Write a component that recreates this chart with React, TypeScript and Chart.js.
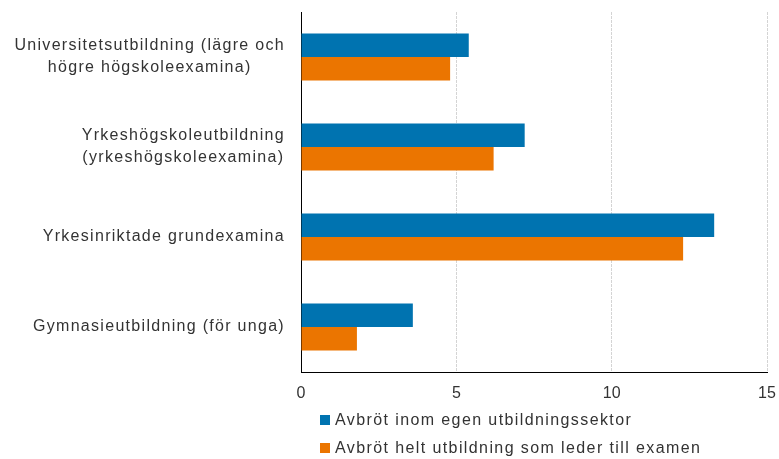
import React, { useEffect, useRef } from 'react';
import { Chart, registerables } from 'chart.js';

Chart.register(...registerables);

// ---- Data ----
const categories: string[][] = [
  ['Universitetsutbildning (lägre och', 'högre högskoleexamina)'],
  ['Yrkeshögskoleutbildning', '(yrkeshögskoleexamina)'],
  ['Yrkesinriktade grundexamina'],
  ['Gymnasieutbildning (för unga)'],
];
const seriesNames = [
  'Avbröt inom egen utbildningssektor',
  'Avbröt helt utbildning som leder till examen',
];
const withinSector = [5.4, 7.2, 13.3, 3.6];
const leftCompletely = [4.8, 6.2, 12.3, 1.8];
const xMin = 0;
const xMax = 15;
const xStep = 5;

// ---- Styles ----
const FONT = "'Liberation Sans', Arial, sans-serif";
const TEXT = '#333333';
const COLORS = ['#0073b0', '#eb7500'];

const yLabelPlugin = {
  id: 'yLabels',
  afterDraw(chart: any) {
    const { ctx, chartArea } = chart;
    const y = chart.scales.y;
    ctx.save();
    ctx.font = `16px ${FONT}`;
    (ctx as any).letterSpacing = '1.3px';
    ctx.fillStyle = TEXT;
    ctx.textAlign = 'center';
    ctx.textBaseline = 'middle';
    const right = chartArea.left - 16;
    const lh = 22;
    categories.forEach((lines, i) => {
      const cy = y.getPixelForValue(i);
      const w = Math.max(...lines.map((l) => ctx.measureText(l).width));
      const cx = right - w / 2;
      lines.forEach((line, j) => {
        ctx.fillText(line, cx, cy + (j - (lines.length - 1) / 2) * lh);
      });
    });
    ctx.restore();
  },
};

export default function App() {
  const ref = useRef<HTMLCanvasElement | null>(null);

  useEffect(() => {
    if (!ref.current) return;
    const chart = new Chart(ref.current, {
      type: 'bar',
      data: {
        labels: categories.map((c) => c.join(' ')),
        datasets: [
          {
            label: seriesNames[0],
            data: withinSector,
            backgroundColor: COLORS[0],
            categoryPercentage: 0.52,
            barPercentage: 1,
          },
          {
            label: seriesNames[1],
            data: leftCompletely,
            backgroundColor: COLORS[1],
            categoryPercentage: 0.52,
            barPercentage: 1,
          },
        ],
      },
      options: {
        indexAxis: 'y',
        animation: false,
        responsive: false,
        maintainAspectRatio: false,
        events: [],
        layout: { padding: { top: 12, right: 12, bottom: 57, left: 0 } },
        plugins: {
          legend: { display: false },
          tooltip: { enabled: false },
        },
        scales: {
          x: {
            min: xMin,
            max: xMax,
            ticks: {
              stepSize: xStep,
              color: TEXT,
              font: { family: FONT, size: 16 },
              padding: 12,
              maxRotation: 0,
            },
            grid: {
              color: '#d4d4d4',
              drawTicks: false,
              lineWidth: 1,
            },
            border: { display: true, color: '#000000', width: 1, dash: [3, 1] },
            afterFit: (s: any) => {
              s.height = 30;
              s.paddingLeft = 0;
              s.paddingRight = 0;
            },
          },
          y: {
            ticks: { display: false },
            grid: { display: false, drawTicks: false },
            border: { display: true, color: '#000000', width: 1 },
            afterFit: (s: any) => {
              s.width = 301;
              s.paddingTop = 0;
              s.paddingBottom = 0;
            },
          },
        },
      },
      plugins: [yLabelPlugin],
    });
    return () => chart.destroy();
  }, []);

  return (
    <div style={{ position: 'absolute', left: 0, top: 0, width: 779, height: 459, background: '#fff' }}>
      <canvas ref={ref} width={779} height={459} style={{ display: 'block', width: 779, height: 459 }} />
      <div
        style={{
          position: 'absolute',
          left: 320,
          top: 406,
          fontFamily: FONT,
          fontSize: 16,
          letterSpacing: '1.4px',
          color: TEXT,
        }}
      >
        {seriesNames.map((n, i) => (
          <div key={i} style={{ display: 'flex', alignItems: 'center', height: 28, whiteSpace: 'nowrap' }}>
            <span style={{ display: 'inline-block', width: 10, height: 10, background: COLORS[i], marginRight: 5 }} />
            <span>{n}</span>
          </div>
        ))}
      </div>
    </div>
  );
}
